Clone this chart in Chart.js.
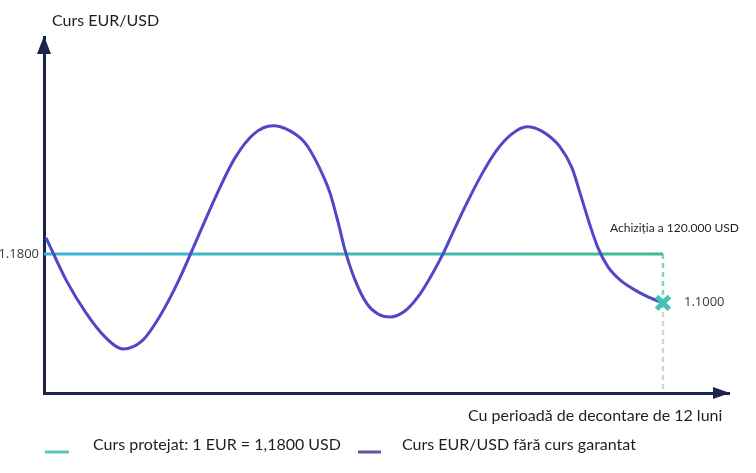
<!DOCTYPE html>
<html lang="ro">
<head>
<meta charset="utf-8">
<script src="https://cdn.jsdelivr.net/npm/chart.js@4.4.1/dist/chart.umd.min.js"></script>
<style>
  html, body { margin: 0; padding: 0; background: #fff; }
  #wrap { width: 756px; height: 473px; }
</style>
</head>
<body>
<div id="wrap"><canvas id="chart" width="756" height="473"></canvas></div>
<script>
// === DATE: curs EUR/USD fara curs garantat (luna -> curs) ===
const months = [
    0.04, 0.427, 0.814, 1.183, 1.532,
    1.900, 2.249, 2.617, 2.985, 3.354, 3.703, 4.071, 4.439,
    4.769, 5.060, 5.312, 5.544, 5.700, 5.835, 6.029, 6.262, 6.475, 6.708,
    6.998, 7.250, 7.483, 7.735, 7.968, 8.200, 8.491, 8.782, 9.073, 9.364,
    9.674, 10.003, 10.236, 10.391, 10.565, 10.740, 10.934, 11.166, 11.418, 11.709, 12
];
const unhedgedRate = [
    1.2061, 1.1376, 1.0837, 1.0445, 1.0249,
    1.0380, 1.0788, 1.1376, 1.2078, 1.2780, 1.3367, 1.3759, 1.3890,
    1.3808, 1.3612, 1.3253, 1.2796, 1.2322, 1.1865, 1.1376, 1.0984, 1.0820, 1.0771,
    1.0869, 1.1098, 1.1408, 1.1800, 1.2225, 1.2633, 1.3106, 1.3498, 1.3759, 1.3874,
    1.3792, 1.3547, 1.3204, 1.2796, 1.2322, 1.1898, 1.1588, 1.1376, 1.1229, 1.1098, 1.1000
];

// === CURS PROTEJAT ===
const hedgedMonths = [0, 12];
const hedgedRate = [1.18, 1.18];

// === MOMENTUL ACHIZITIEI ===
const settleMonth = 12;
const settleRate = 1.10;

// === AXE ===
const rateMin = 0.953;
const rateMax = 1.534;
const monthMax = 13.28;
const rateTicks = [1.18];

// === TEXTE ===
const yTitle = "Curs EUR/USD";
const xTitle = "Cu perioadă de decontare de 12 luni";
const settleLabel = "Achiziția a 120.000 USD";
const legendLabels = ["Curs protejat: 1 EUR = 1,1800 USD", "Curs EUR/USD fără curs garantat"];

const AXIS_COLOR = "#1d2350";
const CURVE_COLOR = "#5247c6";
const TEAL = "#45c2b6";

function toPoints(xs, ys) {
    return xs.map((x, i) => ({ x: x, y: ys[i] }));
}

// sageti, etichete si legenda
const decorPlugin = {
    id: "decor",
    afterDraw(chart) {
        const ctx = chart.ctx;
        const area = chart.chartArea;
        const xs = chart.scales.x;
        const ys = chart.scales.y;
        ctx.save();

        // sageti pe axe
        ctx.fillStyle = AXIS_COLOR;
        ctx.beginPath();
        ctx.moveTo(area.left, area.top - 1);
        ctx.lineTo(area.left - 7, area.top + 17);
        ctx.lineTo(area.left + 7, area.top + 17);
        ctx.closePath();
        ctx.fill();
        ctx.beginPath();
        ctx.moveTo(area.right + 1, area.bottom);
        ctx.lineTo(area.right - 16, area.bottom - 6);
        ctx.lineTo(area.right - 16, area.bottom + 6);
        ctx.closePath();
        ctx.fill();

        ctx.textBaseline = "middle";
        ctx.textAlign = "left";
        ctx.fillStyle = "#1f1f1f";
        ctx.font = "16px Lato";
        ctx.fillText(yTitle, 52, 21);
        ctx.fillText(xTitle, 468, 416);

        ctx.font = "12px Lato";
        ctx.fillText(settleLabel, 610, ys.getPixelForValue(hedgedRate[1]) - 26);

        ctx.font = "13px 'Open Sans'";
        ctx.fillStyle = "#3a3a3a";
        ctx.fillText(settleRate.toFixed(4), xs.getPixelForValue(settleMonth) + 21, ys.getPixelForValue(settleRate) - 1);

        // legenda
        ctx.lineWidth = 3;
        ctx.strokeStyle = "#5cc6be";
        ctx.beginPath(); ctx.moveTo(45, 452); ctx.lineTo(69, 452); ctx.stroke();
        ctx.strokeStyle = "#5a579e";
        ctx.beginPath(); ctx.moveTo(358, 452); ctx.lineTo(381, 452); ctx.stroke();
        ctx.font = "16px Lato";
        ctx.fillStyle = "#1f1f1f";
        ctx.fillText(legendLabels[0], 93, 445);
        ctx.fillText(legendLabels[1], 402, 445);
        ctx.restore();
    }
};

new Chart(document.getElementById("chart"), {
    type: "line",
    data: {
        datasets: [
            {
                label: "achizitie",
                data: [{ x: settleMonth, y: settleRate }],
                showLine: false,
                pointStyle: "crossRot",
                pointRadius: 9,
                pointBorderWidth: 5,
                pointBorderColor: TEAL,
                pointBackgroundColor: TEAL,
                order: 0
            },
            {
                label: legendLabels[1],
                data: toPoints(months, unhedgedRate),
                borderColor: CURVE_COLOR,
                borderWidth: 3,
                cubicInterpolationMode: "monotone",
                pointRadius: 0,
                clip: false,
                order: 1
            },
            {
                label: legendLabels[0],
                data: toPoints(hedgedMonths, hedgedRate),
                borderColor: (c) => {
                    const chart = c.chart;
                    if (!chart.chartArea) return "#3fb8c0";
                    const x = chart.scales.x;
                    const g = chart.ctx.createLinearGradient(x.getPixelForValue(hedgedMonths[0]), 0, x.getPixelForValue(hedgedMonths[1]), 0);
                    g.addColorStop(0, "#3cb5dc");
                    g.addColorStop(1, "#45bb8b");
                    return g;
                },
                borderWidth: 3,
                pointRadius: 0,
                clip: false,
                order: 2
            },
            {
                label: "ghid1",
                data: toPoints([settleMonth, settleMonth], [hedgedRate[1], settleRate]),
                borderColor: "#7fd4c2",
                borderDash: [5, 4],
                borderWidth: 2.5,
                pointRadius: 0,
                order: 3
            },
            {
                label: "ghid2",
                data: toPoints([settleMonth, settleMonth], [settleRate, rateMin]),
                borderColor: "#d3d3d3",
                borderDash: [5, 4],
                borderWidth: 2.5,
                pointRadius: 0,
                order: 3
            }
        ]
    },
    options: {
        responsive: false,
        animation: false,
        events: [],
        layout: { padding: { top: 37, right: 27, left: 0, bottom: 0 } },
        plugins: {
            legend: { display: false },
            tooltip: { enabled: false }
        },
        scales: {
            x: {
                type: "linear",
                min: 0,
                max: monthMax,
                grid: { display: false },
                ticks: { display: false },
                border: { color: AXIS_COLOR, width: 3 },
                afterFit: (s) => { s.height = 80; }
            },
            y: {
                type: "linear",
                min: rateMin,
                max: rateMax,
                grid: { display: false, drawTicks: false },
                border: { color: AXIS_COLOR, width: 3 },
                afterBuildTicks: (s) => { s.ticks = rateTicks.map(v => ({ value: v })); },
                ticks: {
                    padding: 5,
                    color: "#3a3a3a",
                    font: { family: "'Open Sans'", size: 13 },
                    callback: (v) => v.toFixed(4)
                },
                afterFit: (s) => { s.width = 44; }
            }
        }
    },
    plugins: [decorPlugin]
});
</script>
</body>
</html>
